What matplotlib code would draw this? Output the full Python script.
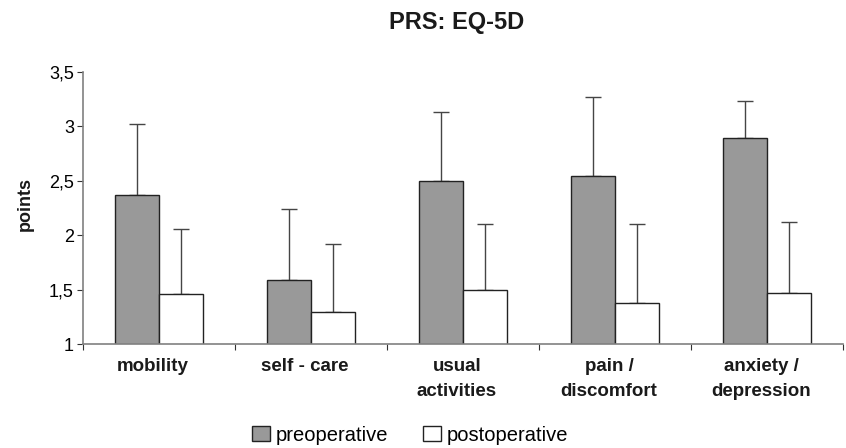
import matplotlib
matplotlib.use("Agg")
import matplotlib.pyplot as plt
import matplotlib.transforms as mtransforms
import numpy as np

plt.rcParams['font.family'] = ['Liberation Sans', 'DejaVu Sans']

# EQ-5D dimensions and mean scores (± SD) before and after surgery
categories = ["mobility", "self - care", "usual\nactivities", "pain /\ndiscomfort", "anxiety /\ndepression"]
pre_mean = [2.37, 1.59, 2.50, 2.54, 2.89]
pre_sd = [0.65, 0.65, 0.63, 0.73, 0.34]
post_mean = [1.46, 1.29, 1.50, 1.38, 1.47]
post_sd = [0.60, 0.63, 0.60, 0.72, 0.65]
y_ticks = [1, 1.5, 2, 2.5, 3, 3.5]
y_tick_labels = ["1", "1,5", "2", "2,5", "3", "3,5"]

fig = plt.figure(figsize=(8.46, 4.48), dpi=100)
ax = fig.add_axes([83 / 846, 1 - 344 / 448, 760 / 846, 272 / 448])

x = np.arange(len(categories))
w = 0.29
edge = "#222222"
err_color = "#454545"

ax.bar(x - w / 2, pre_mean, width=w, color="#999999", edgecolor=edge, linewidth=1.0,
       label="preoperative", zorder=2)
ax.bar(x + w / 2, post_mean, width=w, color="white", edgecolor=edge, linewidth=1.0,
       label="postoperative", zorder=2)

ax.errorbar(x - w / 2, pre_mean, yerr=[np.zeros(len(x)), pre_sd], fmt="none",
            ecolor=err_color, elinewidth=1.0, capsize=6, capthick=1.0, zorder=1)
ax.errorbar(x + w / 2, post_mean, yerr=[np.zeros(len(x)), post_sd], fmt="none",
            ecolor=err_color, elinewidth=1.0, capsize=6, capthick=1.0, zorder=1)

ax.set_xlim(-0.5, len(categories) - 0.5)
ax.set_ylim(1, 3.5)
ax.set_yticks(y_ticks)
ax.set_yticklabels(y_tick_labels, fontsize=13)
ax.tick_params(axis="y", direction="out", length=4.5, width=0.8, color="#333333", pad=2)

# category boundaries as x ticks, names drawn below each group
ax.set_xticks(np.arange(len(categories) + 1) - 0.5)
ax.set_xticklabels([])
ax.tick_params(axis="x", direction="out", length=4, width=0.8, color="#333333")

label_tf = ax.get_xaxis_transform() + mtransforms.ScaledTranslation(-6 / 100, -14 / 100, fig.dpi_scale_trans)
for xi, name in zip(x, categories):
    ax.text(xi, 0, name, transform=label_tf, ha="center", va="top",
            fontsize=13.5, fontweight="bold", color="#1a1a1a", linespacing=1.62)

for side in ("top", "right"):
    ax.spines[side].set_visible(False)
for side in ("left", "bottom"):
    ax.spines[side].set_color("#808080")
    ax.spines[side].set_linewidth(1.2)
ax.spines["bottom"].set_zorder(3)

fig.text(456.5 / 846, 1 - 22 / 448, "PRS: EQ-5D", ha="center", va="center",
         fontsize=17, fontweight="bold", color="#1a1a1a")
fig.text(25 / 846, 1 - 204 / 448, "points", rotation=90, ha="center", va="center",
         fontsize=13, fontweight="bold", color="#1a1a1a")

fig.legend(loc="center", bbox_to_anchor=(410 / 846, 1 - 435 / 448), ncol=2, frameon=False,
           fontsize=14.5, handlelength=0.9, handleheight=0.75, handletextpad=0.25,
           columnspacing=1.75, borderaxespad=0, borderpad=0)

fig.savefig("out.png", dpi=100)
